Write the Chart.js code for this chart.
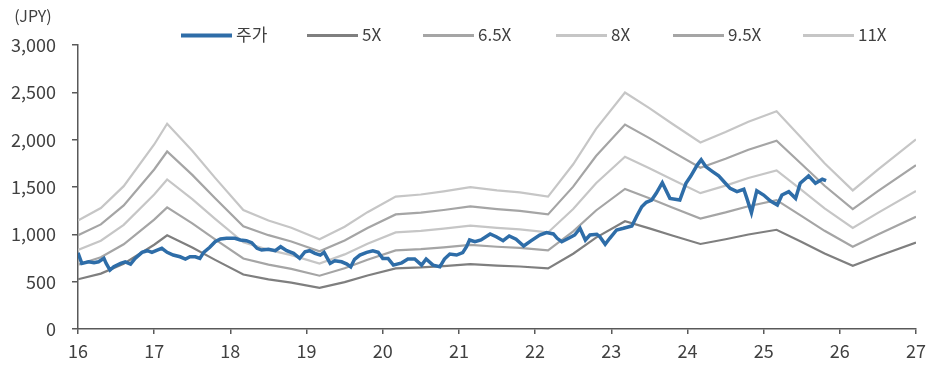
<!DOCTYPE html>
<html>
<head>
<meta charset="utf-8">
<script src="https://cdn.jsdelivr.net/npm/chart.js@4.4.1/dist/chart.umd.min.js"></script>
<style>
  html, body { margin: 0; padding: 0; background: #ffffff; }
  canvas { display: block; }
</style>
</head>
<body>
<canvas id="c" width="935" height="365"></canvas>
<script>
// Share price (JPY) by fractional year, and the P/E band lines.
const seriesNames = ['주가', '5X', '6.5X', '8X', '9.5X', '11X'];
const unitLabel = '(JPY)';

const priceYears = [
  16.00, 16.05, 16.14, 16.21, 16.27, 16.34, 16.37, 16.42, 16.47, 16.56,
  16.62, 16.69, 16.75, 16.84, 16.91, 16.97, 17.04, 17.10, 17.17, 17.25,
  17.34, 17.41, 17.47, 17.54, 17.60, 17.65, 17.73, 17.80, 17.87, 17.95,
  18.06, 18.13, 18.21, 18.28, 18.35, 18.41, 18.50, 18.59, 18.66, 18.74,
  18.83, 18.91, 18.98, 19.04, 19.11, 19.18, 19.23, 19.31, 19.37, 19.46,
  19.53, 19.58, 19.63, 19.70, 19.79, 19.87, 19.94, 20.00, 20.07, 20.14,
  20.25, 20.33, 20.42, 20.51, 20.57, 20.66, 20.75, 20.81, 20.88, 20.97,
  21.05, 21.10, 21.14, 21.21, 21.29, 21.41, 21.49, 21.58, 21.66, 21.75,
  21.85, 21.95, 22.06, 22.15, 22.24, 22.29, 22.35, 22.44, 22.52, 22.59,
  22.66, 22.72, 22.81, 22.85, 22.92, 22.98, 23.07, 23.16, 23.27, 23.33,
  23.40, 23.46, 23.53, 23.59, 23.67, 23.77, 23.90, 23.98, 24.04, 24.13,
  24.18, 24.24, 24.33, 24.41, 24.48, 24.56, 24.65, 24.74, 24.78, 24.84,
  24.91, 25.00, 25.09, 25.18, 25.24, 25.33, 25.42, 25.48, 25.59, 25.68,
  25.77, 25.82
];
const priceJPY = [
  805, 693, 710, 699, 710, 746, 693, 622, 657, 693,
  710, 686, 746, 810, 827, 810, 834, 852, 810, 781,
  763, 739, 763, 763, 746, 810, 863, 922, 951, 958,
  958, 940, 933, 912, 852, 834, 842, 827, 869, 827,
  799, 746, 816, 827, 799, 781, 810, 693, 721, 710,
  686, 657, 736, 781, 810, 827, 810, 746, 746, 675,
  699, 739, 739, 675, 739, 675, 657, 739, 792, 781,
  806, 869, 940, 922, 940, 1004, 975, 933, 983, 948,
  877, 933, 993, 1018, 1004, 958, 922, 958, 993, 1064,
  940, 993, 1001, 975, 895, 958, 1046, 1064, 1089, 1186,
  1291, 1338, 1362, 1433, 1546, 1380, 1362, 1539, 1610, 1734,
  1787, 1716, 1663, 1617, 1556, 1486, 1451, 1476, 1380, 1228,
  1461, 1415, 1352, 1309, 1415, 1451, 1380, 1539, 1617, 1539,
  1582, 1567
];

const bandYears = [
  16.00, 16.30, 16.60, 17.00, 17.17, 17.50, 17.80, 18.17, 18.50, 18.80,
  19.17, 19.50, 19.80, 20.17, 20.50, 20.80, 21.15, 21.50, 21.80, 22.17,
  22.50, 22.80, 23.18, 23.50, 23.80, 24.17, 24.50, 24.80, 25.17, 25.50,
  25.80, 26.17, 26.50, 27.00
];
const band5x = [
  525, 585, 690, 890, 990, 860, 730, 575, 525, 490,
  435, 495, 565, 640, 650, 665, 685, 670, 660, 640,
  795, 965, 1138, 1063, 988, 898, 948, 998, 1048, 918,
  798, 668, 768, 913
];
const band65x = [
  680, 758, 895, 1155, 1285, 1116, 947, 745, 680, 635,
  563, 641, 732, 830, 843, 862, 888, 869, 856, 830,
  1031, 1252, 1479, 1381, 1284, 1167, 1232, 1297, 1362, 1193,
  1037, 868, 998, 1186
];
const band8x = [
  836, 932, 1100, 1420, 1580, 1372, 1164, 916, 836, 780,
  692, 788, 900, 1020, 1036, 1060, 1092, 1068, 1052, 1020,
  1268, 1540, 1819, 1699, 1579, 1435, 1515, 1595, 1675, 1467,
  1275, 1067, 1227, 1459
];
const band95x = [
  991, 1105, 1305, 1685, 1875, 1628, 1381, 1086, 991, 925,
  820, 934, 1067, 1210, 1229, 1257, 1295, 1267, 1248, 1210,
  1504, 1827, 2159, 2016, 1874, 1703, 1798, 1893, 1988, 1741,
  1513, 1266, 1456, 1731
];
const band11x = [
  1146, 1278, 1509, 1949, 2168, 1882, 1596, 1256, 1146, 1069,
  948, 1080, 1234, 1399, 1421, 1454, 1498, 1465, 1443, 1399,
  1740, 2114, 2498, 2333, 2168, 1970, 2080, 2190, 2300, 2014,
  1750, 1464, 1684, 2003
];

const toPoints = (xs, ys) => xs.map((x, i) => ({ x: x, y: ys[i] }));

const TEXT = '#404040';
const AXIS = '#595959';
const FONT = "'Noto Sans CJK KR', 'Noto Sans', sans-serif";

const bandStyle = (color) => ({
  borderColor: color,
  backgroundColor: color,
  borderWidth: 2.2,
  pointRadius: 0,
  tension: 0,
  fill: false
});

// Legend row and unit caption, drawn on the canvas above the plot.
const captionPlugin = {
  id: 'captionPlugin',
  afterDraw(chart) {
    const ctx = chart.ctx;
    const starts = [181, 307, 423, 556, 673, 803];
    ctx.save();
    ctx.font = '17px ' + FONT;
    ctx.textBaseline = 'middle';
    ctx.textAlign = 'left';
    chart.data.datasets.forEach((ds, i) => {
      const x0 = starts[i];
      ctx.strokeStyle = ds.borderColor;
      ctx.lineWidth = i === 0 ? 3.8 : 3;
      ctx.beginPath();
      ctx.moveTo(x0, 35.5);
      ctx.lineTo(x0 + 51, 35.5);
      ctx.stroke();
      ctx.fillStyle = TEXT;
      ctx.fillText(ds.label, x0 + 55, 35);
    });
    ctx.font = '16px ' + FONT;
    ctx.textAlign = 'center';
    ctx.fillText(unitLabel, 33, 16);
    ctx.restore();
  }
};

new Chart(document.getElementById('c'), {
  type: 'line',
  data: {
    datasets: [
      Object.assign({ label: seriesNames[0], data: toPoints(priceYears, priceJPY) },
        bandStyle('#2e6da8'), { borderWidth: 3.5 }),
      Object.assign({ label: seriesNames[1], data: toPoints(bandYears, band5x) }, bandStyle('#7f7f7f')),
      Object.assign({ label: seriesNames[2], data: toPoints(bandYears, band65x) }, bandStyle('#a5a5a5')),
      Object.assign({ label: seriesNames[3], data: toPoints(bandYears, band8x) }, bandStyle('#c6c6c6')),
      Object.assign({ label: seriesNames[4], data: toPoints(bandYears, band95x) }, bandStyle('#a5a5a5')),
      Object.assign({ label: seriesNames[5], data: toPoints(bandYears, band11x) }, bandStyle('#c6c6c6'))
    ]
  },
  options: {
    responsive: false,
    animation: false,
    layout: { padding: { top: 45, right: 19, left: 0, bottom: 0 } },
    plugins: {
      legend: { display: false },
      tooltip: { enabled: false }
    },
    scales: {
      x: {
        type: 'linear',
        min: 16,
        max: 27,
        ticks: {
          stepSize: 1,
          autoSkip: false,
          maxRotation: 0,
          padding: 6,
          color: TEXT,
          font: { family: FONT, size: 18 }
        },
        grid: { drawOnChartArea: false, drawTicks: true, tickLength: 5, color: AXIS, lineWidth: 1.5 },
        border: { display: true, color: AXIS, width: 1.5 },
        afterFit(scale) { scale.height = 36; }
      },
      y: {
        min: 0,
        max: 3000,
        ticks: {
          stepSize: 500,
          padding: 16,
          color: TEXT,
          font: { family: FONT, size: 18 },
          callback: (v) => Number(v).toLocaleString('en-US')
        },
        grid: { drawOnChartArea: false, drawTicks: true, tickLength: 6, color: AXIS, lineWidth: 1.5 },
        border: { display: true, color: AXIS, width: 1.5 },
        afterFit(scale) { scale.width = 78; }
      }
    }
  },
  plugins: [captionPlugin]
});
</script>
</body>
</html>
